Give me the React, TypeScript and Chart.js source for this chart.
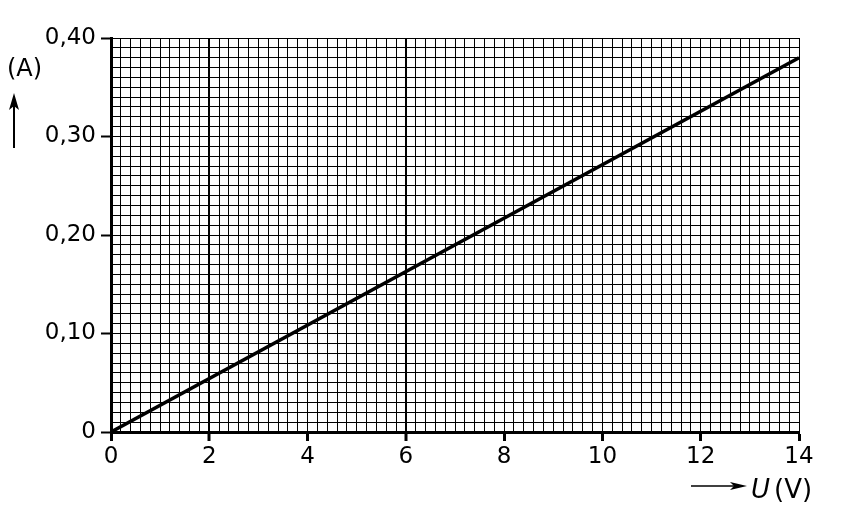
import Chart from 'chart.js/auto';
import { useEffect, useRef } from 'react';

// measured current through the resistor vs. voltage
const voltage = [0, 14];
const current = [0, 0.38];

const xTickLabels = ['0', '2', '4', '6', '8', '10', '12', '14'];
const yTickLabels = ['0', '0,10', '0,20', '0,30', '0,40'];
const xMajorStep = 2;
const yMajorStep = 0.1;
const minorPerMajor = 10;
// vertical lines printed heavier on the graph paper
const heavyX = [2, 6];

const FONT = "'DejaVu Sans', sans-serif";

const axisTitles = {
  id: 'axisTitles',
  afterDraw(chart: Chart) {
    const ctx = chart.ctx;
    ctx.save();
    ctx.fillStyle = '#000';
    ctx.strokeStyle = '#000';
    ctx.textBaseline = 'alphabetic';
    ctx.textAlign = 'left';
    ctx.font = `24px ${FONT}`;
    ctx.fillText('(A)', 7, 76);
    // up arrow
    ctx.lineWidth = 2;
    ctx.beginPath();
    ctx.moveTo(14, 148);
    ctx.lineTo(14, 106);
    ctx.stroke();
    ctx.beginPath();
    ctx.moveTo(14, 93);
    ctx.lineTo(9, 110);
    ctx.lineTo(14, 106);
    ctx.lineTo(19, 110);
    ctx.closePath();
    ctx.fill();
    // right arrow
    ctx.lineWidth = 1.5;
    ctx.beginPath();
    ctx.moveTo(691, 486);
    ctx.lineTo(734, 486);
    ctx.stroke();
    ctx.beginPath();
    ctx.moveTo(747, 486);
    ctx.lineTo(730, 482);
    ctx.lineTo(734, 486);
    ctx.lineTo(730, 490);
    ctx.closePath();
    ctx.fill();
    ctx.font = `italic 26px ${FONT}`;
    ctx.fillText('U', 751, 498);
    ctx.font = `26px ${FONT}`;
    ctx.fillText('(V)', 774, 498);
    ctx.restore();
  },
};

export default function App() {
  const chartRef = useRef<HTMLCanvasElement | null>(null);

  useEffect(() => {
    if (!chartRef.current) return;
    const xMax = xMajorStep * (xTickLabels.length - 1);
    const yMax = yMajorStep * (yTickLabels.length - 1);
    const xCount = (xTickLabels.length - 1) * minorPerMajor + 1;
    const yCount = (yTickLabels.length - 1) * minorPerMajor + 1;

    const chart = new Chart(chartRef.current, {
      type: 'scatter',
      data: {
        datasets: [
          {
            data: voltage.map((v, i) => ({ x: v, y: current[i] })),
            showLine: true,
            borderColor: '#000',
            borderWidth: 3.5,
            pointRadius: 0,
          },
        ],
      },
      options: {
        animation: false,
        responsive: false,
        layout: { padding: { top: 38, right: 42, left: 0, bottom: 0 } },
        plugins: { legend: { display: false }, tooltip: { enabled: false } },
        scales: {
          x: {
            type: 'linear',
            min: 0,
            max: xMax,
            afterBuildTicks: (axis: any) => {
              axis.ticks = Array.from({ length: xCount }, (_, i) => ({
                value: (i * xMajorStep) / minorPerMajor,
              }));
            },
            afterFit: (axis: any) => {
              axis.height = 97;
            },
            ticks: {
              autoSkip: false,
              maxRotation: 0,
              padding: 2,
              color: '#000',
              font: { family: FONT, size: 23 },
              callback: (_v: any, i: number) =>
                i % minorPerMajor === 0 ? xTickLabels[i / minorPerMajor] : '',
            },
            grid: {
              color: '#000',
              lineWidth: (c: any) =>
                heavyX.some((h) => Math.abs(c.tick?.value - h) < 1e-6) ? 2 : 1,
              tickLength: 9,
              tickWidth: 3,
              tickColor: (c: any) =>
                c.index % minorPerMajor === 0 ? '#000' : 'rgba(0,0,0,0)',
            },
            border: { display: true, color: '#000', width: 3 },
          },
          y: {
            type: 'linear',
            min: 0,
            max: yMax,
            afterBuildTicks: (axis: any) => {
              axis.ticks = Array.from({ length: yCount }, (_, i) => ({
                value: (i * yMajorStep) / minorPerMajor,
              }));
            },
            afterFit: (axis: any) => {
              axis.width = 111;
            },
            ticks: {
              autoSkip: false,
              padding: 5,
              color: '#000',
              font: { family: FONT, size: 23 },
              callback: (_v: any, i: number) =>
                i % minorPerMajor === 0 ? yTickLabels[i / minorPerMajor] : '',
            },
            grid: {
              color: '#000',
              lineWidth: 1,
              tickLength: 10,
              tickWidth: 2,
              tickColor: (c: any) =>
                c.index % minorPerMajor === 0 ? '#000' : 'rgba(0,0,0,0)',
            },
            border: { display: true, color: '#000', width: 3 },
          },
        },
      },
      plugins: [axisTitles],
    });

    return () => chart.destroy();
  }, []);

  return (
    <div style={{ position: 'absolute', left: 0, top: 0, width: 841, height: 529, background: '#fff' }}>
      <canvas ref={chartRef} width={841} height={529}></canvas>
    </div>
  );
}
